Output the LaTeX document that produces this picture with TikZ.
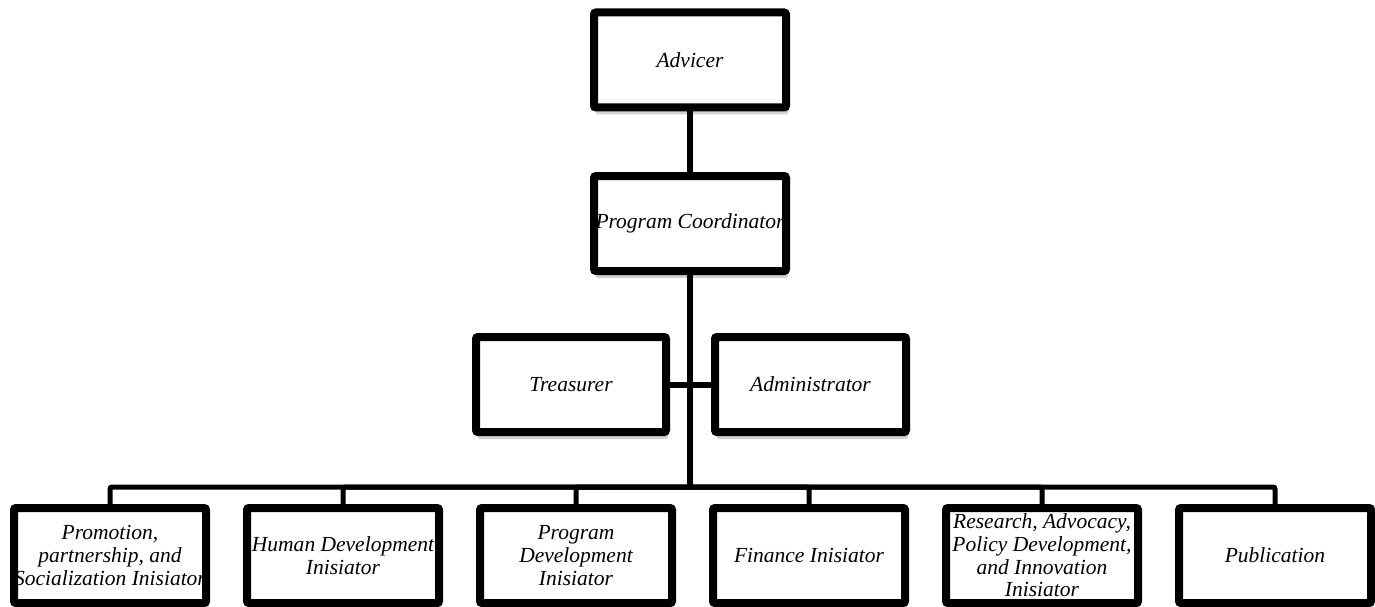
\documentclass[tikz,border=0pt]{standalone}
\usepackage{fontspec}
\setmainfont{Liberation Serif}
\usetikzlibrary{shadows}
\begin{document}
\begin{tikzpicture}[x=1pt,y=-1pt,
  box/.style={draw=black, line width=8pt, fill=white, rounded corners=2pt,
    minimum width=192pt, minimum height=95pt, inner sep=0pt, align=center,
    font=\fontsize{21.5}{22.7}\selectfont\itshape,
    drop shadow={shadow xshift=2pt, shadow yshift=-7pt, opacity=0.18, fill=black}},
  link/.style={line width=6pt, draw=black},
  buslink/.style={line width=5pt, draw=black, rounded corners=2pt}]
\useasboundingbox (0,0) rectangle (1375,607);
\fill[white] (0,0) rectangle (1375,607);
% connectors
\coordinate (hub) at (690,487);
\node[box] (adv) at (690,60) {Advicer};
\node[box] (pc) at (690,223.5) {Program Coordinator};
\node[box, minimum width=190pt] (tre) at (571,384.5) {Treasurer};
\node[box, minimum width=191pt] (adm) at (810.5,384.5) {Administrator};
\node[box] (b1) at (110,555.5) {Promotion,\\ partnership, and\\ Socialization Inisiator};
\node[box] (b2) at (343,555.5) {Human Development\\ Inisiator};
\node[box] (b3) at (576,555.5) {Program\\ Development\\ Inisiator};
\node[box] (b4) at (809,555.5) {Finance Inisiator};
\node[box] (b5) at (1042,555.5) {Research, Advocacy,\\ Policy Development,\\ and Innovation\\ Inisiator};
\node[box] (b6) at (1275,555.5) {Publication};
\draw[link] (adv.south) -- (pc.north);
\draw[link] (pc.south) -- (hub);
\draw[link] (tre.east) -- (adm.west);
\foreach \b in {b1,b2,b3,b4,b5,b6}{
  \draw[buslink] (hub) -| (\b.north);
}
\end{tikzpicture}
\end{document}
